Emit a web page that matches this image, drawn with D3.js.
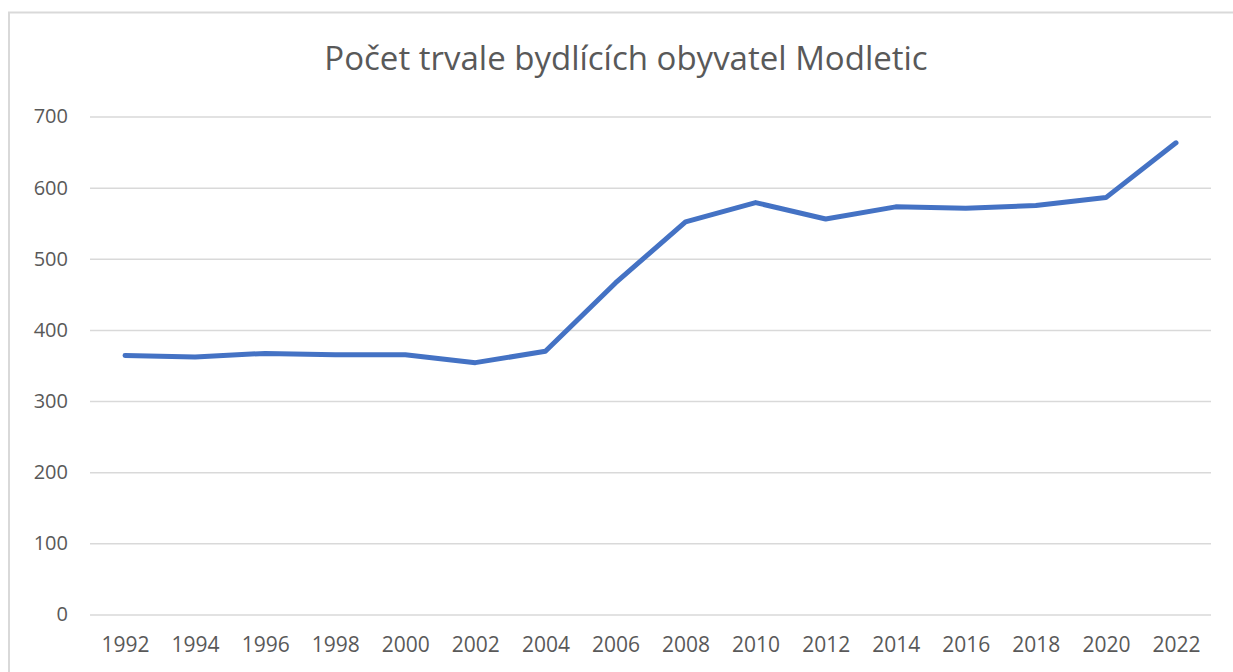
<!DOCTYPE html>
<html>
<head>
<meta charset="utf-8">
<script src="https://cdn.jsdelivr.net/npm/d3@7"></script>
<style>
  body { margin: 0; background: #fff; }
  svg { display: block; font-family: "Open Sans", "Noto Sans", sans-serif; }
</style>
</head>
<body>
<script>
// data
const years = ["1992", "1994", "1996", "1998", "2000", "2002", "2004", "2006",
  "2008", "2010", "2012", "2014", "2016", "2018", "2020", "2022"];
const residents = [364, 362, 367, 365, 365, 354, 370, 466,
  552, 579, 556, 573, 571, 575, 586, 663];
const yTicks = [0, 100, 200, 300, 400, 500, 600, 700];
const title = "Počet trvale bydlících obyvatel Modletic";

const width = 1233, height = 672;
const plot = { left: 90, right: 1211, top: 116.5, bottom: 614.5 };

const svg = d3.select("body").append("svg")
  .attr("width", width)
  .attr("height", height);

// chart area border (cut off at right / bottom like the screenshot)
svg.append("path")
  .attr("d", `M9,${height + 5}V12.5H${width + 5}`)
  .attr("fill", "none")
  .attr("stroke", "#d9d9d9")
  .attr("stroke-width", 2);

svg.append("text")
  .attr("x", 626)
  .attr("y", 70)
  .attr("text-anchor", "middle")
  .attr("font-size", 33)
  .attr("fill", "#595959")
  .text(title);

const x = d3.scalePoint()
  .domain(years)
  .range([plot.left, plot.right])
  .padding(0.5);

const y = d3.scaleLinear()
  .domain([0, 700])
  .range([plot.bottom, plot.top]);

// gridlines + y labels
const yAxis = svg.append("g")
  .attr("transform", `translate(${plot.left},0)`)
  .call(d3.axisLeft(y).tickValues(yTicks).tickSize(-(plot.right - plot.left)).tickPadding(22));
yAxis.select(".domain").remove();
yAxis.selectAll(".tick line")
  .attr("stroke", "#d9d9d9")
  .attr("stroke-width", 1.5);
yAxis.selectAll(".tick text")
  .attr("font-size", 20)
  .attr("font-family", "Open Sans")
  .attr("fill", "#595959");

// x labels
const xAxis = svg.append("g")
  .attr("transform", `translate(0,${plot.bottom})`)
  .call(d3.axisBottom(x).tickSize(0).tickPadding(23));
xAxis.select(".domain").remove();
xAxis.selectAll(".tick text")
  .attr("font-size", 21)
  .attr("font-family", "Open Sans")
  .attr("fill", "#595959");

// the line
const line = d3.line()
  .x((d, i) => x(years[i]))
  .y(d => y(d));

svg.append("path")
  .datum(residents)
  .attr("d", line)
  .attr("fill", "none")
  .attr("stroke", "#4472c4")
  .attr("stroke-width", 5)
  .attr("stroke-linejoin", "round")
  .attr("stroke-linecap", "round");
</script>
</body>
</html>
